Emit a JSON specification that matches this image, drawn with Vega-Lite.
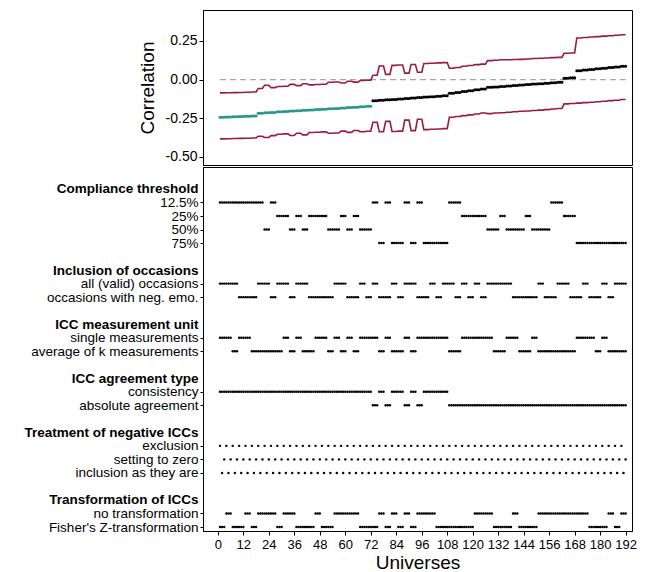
{
  "$schema": "https://vega.github.io/schema/vega-lite/v6.json",
  "padding": {"left": 23, "top": 9, "right": 5, "bottom": 0},
  "config": {
    "font": "Liberation Sans",
    "view": {"stroke": "black", "strokeWidth": 1},
    "axis": {"domainColor": "black", "tickColor": "black", "labelColor": "black", "titleColor": "black", "grid": false, "titleFontWeight": "normal", "tickSize": 4, "domainWidth": 1}
  },
  "datasets": {
    "T": [
      {"k":0,"c":"c1","o":"o1","m":"m1","a":"a1","t":"t2","e":-0.243,"lo":-0.383,"hi":-0.086},
      {"k":1,"c":"c1","o":"o1","m":"m1","a":"a1","t":"t1","e":-0.242,"lo":-0.382,"hi":-0.085},
      {"k":2,"c":"c1","o":"o1","m":"m2","a":"a1","t":"t2","e":-0.240,"lo":-0.381,"hi":-0.084},
      {"k":3,"c":"c1","o":"o2","m":"m1","a":"a1","t":"t2","e":-0.239,"lo":-0.380,"hi":-0.083},
      {"k":4,"c":"c1","o":"o2","m":"m1","a":"a1","t":"t1","e":-0.237,"lo":-0.379,"hi":-0.082},
      {"k":5,"c":"c1","o":"o2","m":"m2","a":"a1","t":"t2","e":-0.235,"lo":-0.377,"hi":-0.080},
      {"k":6,"c":"c1","o":"o1","m":"m2","a":"a1","t":"t1","e":-0.218,"lo":-0.366,"hi":-0.057},
      {"k":7,"c":"c3","o":"o1","m":"m2","a":"a1","t":"t1","e":-0.215,"lo":-0.374,"hi":-0.036},
      {"k":8,"c":"c1","o":"o2","m":"m2","a":"a1","t":"t1","e":-0.213,"lo":-0.362,"hi":-0.052},
      {"k":9,"c":"c2","o":"o1","m":"m2","a":"a1","t":"t2","e":-0.208,"lo":-0.353,"hi":-0.045},
      {"k":10,"c":"c2","o":"o1","m":"m1","a":"a1","t":"t1","e":-0.206,"lo":-0.351,"hi":-0.043},
      {"k":11,"c":"c3","o":"o2","m":"m2","a":"a1","t":"t1","e":-0.203,"lo":-0.361,"hi":-0.031},
      {"k":12,"c":"c2","o":"o1","m":"m1","a":"a1","t":"t2","e":-0.201,"lo":-0.347,"hi":-0.039},
      {"k":13,"c":"c3","o":"o1","m":"m2","a":"a1","t":"t2","e":-0.198,"lo":-0.357,"hi":-0.027},
      {"k":14,"c":"c2","o":"o2","m":"m2","a":"a1","t":"t2","e":-0.196,"lo":-0.342,"hi":-0.034},
      {"k":15,"c":"c2","o":"o2","m":"m1","a":"a1","t":"t1","e":-0.193,"lo":-0.340,"hi":-0.032},
      {"k":16,"c":"c2","o":"o2","m":"m1","a":"a1","t":"t2","e":-0.191,"lo":-0.338,"hi":-0.030},
      {"k":17,"c":"c3","o":"o2","m":"m2","a":"a1","t":"t2","e":-0.188,"lo":-0.347,"hi":-0.017},
      {"k":18,"c":"c3","o":"o1","m":"m1","a":"a1","t":"t1","e":-0.186,"lo":-0.345,"hi":-0.015},
      {"k":19,"c":"c2","o":"o1","m":"m2","a":"a1","t":"t1","e":-0.183,"lo":-0.333,"hi":-0.022},
      {"k":20,"c":"c3","o":"o2","m":"m1","a":"a1","t":"t1","e":-0.181,"lo":-0.341,"hi":-0.011},
      {"k":21,"c":"c2","o":"o2","m":"m2","a":"a1","t":"t1","e":-0.178,"lo":-0.329,"hi":-0.016},
      {"k":22,"c":"c3","o":"o1","m":"m1","a":"a1","t":"t2","e":-0.176,"lo":-0.337,"hi":-0.006},
      {"k":23,"c":"c3","o":"o2","m":"m1","a":"a1","t":"t2","e":-0.173,"lo":-0.334,"hi":-0.003},
      {"k":24,"c":"c1","o":"o1","m":"m1","a":"a2","t":"t2","e":-0.136,"lo":-0.276,"hi":0.028},
      {"k":25,"c":"c4","o":"o2","m":"m2","a":"a1","t":"t1","e":-0.133,"lo":-0.337,"hi":0.088},
      {"k":26,"c":"c1","o":"o2","m":"m1","a":"a2","t":"t2","e":-0.130,"lo":-0.270,"hi":0.034},
      {"k":27,"c":"c4","o":"o1","m":"m2","a":"a1","t":"t1","e":-0.128,"lo":-0.335,"hi":0.092},
      {"k":28,"c":"c4","o":"o2","m":"m2","a":"a1","t":"t2","e":-0.125,"lo":-0.333,"hi":0.094},
      {"k":29,"c":"c1","o":"o1","m":"m1","a":"a2","t":"t1","e":-0.122,"lo":-0.262,"hi":0.042},
      {"k":30,"c":"c4","o":"o1","m":"m2","a":"a1","t":"t2","e":-0.119,"lo":-0.330,"hi":0.098},
      {"k":31,"c":"c1","o":"o2","m":"m1","a":"a2","t":"t1","e":-0.116,"lo":-0.256,"hi":0.048},
      {"k":32,"c":"c4","o":"o2","m":"m1","a":"a1","t":"t1","e":-0.113,"lo":-0.323,"hi":0.104},
      {"k":33,"c":"c4","o":"o1","m":"m1","a":"a1","t":"t1","e":-0.110,"lo":-0.321,"hi":0.106},
      {"k":34,"c":"c4","o":"o2","m":"m1","a":"a1","t":"t2","e":-0.107,"lo":-0.319,"hi":0.108},
      {"k":35,"c":"c4","o":"o1","m":"m1","a":"a1","t":"t2","e":-0.104,"lo":-0.317,"hi":0.110},
      {"k":36,"c":"c1","o":"o1","m":"m2","a":"a2","t":"t2","e":-0.088,"lo":-0.243,"hi":0.073},
      {"k":37,"c":"c1","o":"o2","m":"m2","a":"a2","t":"t2","e":-0.083,"lo":-0.238,"hi":0.078},
      {"k":38,"c":"c2","o":"o1","m":"m1","a":"a2","t":"t2","e":-0.077,"lo":-0.233,"hi":0.086},
      {"k":39,"c":"c2","o":"o2","m":"m1","a":"a2","t":"t2","e":-0.072,"lo":-0.228,"hi":0.091},
      {"k":40,"c":"c2","o":"o1","m":"m1","a":"a2","t":"t1","e":-0.066,"lo":-0.222,"hi":0.097},
      {"k":41,"c":"c2","o":"o2","m":"m1","a":"a2","t":"t1","e":-0.060,"lo":-0.216,"hi":0.100},
      {"k":42,"c":"c3","o":"o1","m":"m1","a":"a2","t":"t1","e":-0.050,"lo":-0.220,"hi":0.123},
      {"k":43,"c":"c3","o":"o1","m":"m2","a":"a2","t":"t2","e":-0.047,"lo":-0.216,"hi":0.125},
      {"k":44,"c":"c2","o":"o1","m":"m2","a":"a2","t":"t2","e":-0.044,"lo":-0.214,"hi":0.128},
      {"k":45,"c":"c3","o":"o1","m":"m1","a":"a2","t":"t2","e":-0.041,"lo":-0.211,"hi":0.128},
      {"k":46,"c":"c3","o":"o2","m":"m1","a":"a2","t":"t1","e":-0.038,"lo":-0.208,"hi":0.130},
      {"k":47,"c":"c3","o":"o2","m":"m2","a":"a2","t":"t2","e":-0.035,"lo":-0.205,"hi":0.131},
      {"k":48,"c":"c2","o":"o2","m":"m2","a":"a2","t":"t2","e":-0.032,"lo":-0.203,"hi":0.133},
      {"k":49,"c":"c3","o":"o2","m":"m1","a":"a2","t":"t2","e":-0.029,"lo":-0.200,"hi":0.136},
      {"k":50,"c":"c3","o":"o1","m":"m2","a":"a2","t":"t1","e":-0.026,"lo":-0.197,"hi":0.138},
      {"k":51,"c":"c3","o":"o2","m":"m2","a":"a2","t":"t1","e":-0.023,"lo":-0.194,"hi":0.140},
      {"k":52,"c":"c1","o":"o2","m":"m2","a":"a2","t":"t1","e":-0.020,"lo":-0.190,"hi":0.142},
      {"k":53,"c":"c1","o":"o1","m":"m2","a":"a2","t":"t1","e":-0.017,"lo":-0.187,"hi":0.144},
      {"k":54,"c":"c2","o":"o1","m":"m2","a":"a2","t":"t1","e":0.008,"lo":-0.157,"hi":0.170},
      {"k":55,"c":"c2","o":"o2","m":"m2","a":"a2","t":"t1","e":0.012,"lo":-0.154,"hi":0.172},
      {"k":56,"c":"c4","o":"o2","m":"m1","a":"a2","t":"t1","e":0.058,"lo":-0.152,"hi":0.269},
      {"k":57,"c":"c4","o":"o1","m":"m1","a":"a2","t":"t1","e":0.062,"lo":-0.149,"hi":0.272},
      {"k":58,"c":"c4","o":"o2","m":"m1","a":"a2","t":"t2","e":0.066,"lo":-0.146,"hi":0.275},
      {"k":59,"c":"c4","o":"o2","m":"m2","a":"a2","t":"t2","e":0.070,"lo":-0.143,"hi":0.278},
      {"k":60,"c":"c4","o":"o1","m":"m1","a":"a2","t":"t2","e":0.074,"lo":-0.140,"hi":0.281},
      {"k":61,"c":"c4","o":"o2","m":"m2","a":"a2","t":"t1","e":0.078,"lo":-0.136,"hi":0.284},
      {"k":62,"c":"c4","o":"o1","m":"m2","a":"a2","t":"t2","e":0.082,"lo":-0.133,"hi":0.287},
      {"k":63,"c":"c4","o":"o1","m":"m2","a":"a2","t":"t1","e":0.086,"lo":-0.129,"hi":0.290}
    ],
    "L": [
      {"code":"c1","label":"12.5%"},{"code":"c2","label":"25%"},{"code":"c3","label":"50%"},{"code":"c4","label":"75%"},
      {"code":"o1","label":"all (valid) occasions"},{"code":"o2","label":"occasions with neg. emo."},
      {"code":"m1","label":"single measurements"},{"code":"m2","label":"average of k measurements"},
      {"code":"a1","label":"consistency"},{"code":"a2","label":"absolute agreement"},
      {"code":"n1","label":"exclusion"},{"code":"n2","label":"setting to zero"},{"code":"n3","label":"inclusion as they are"},
      {"code":"t1","label":"no transformation"},{"code":"t2","label":"Fisher's Z-transformation"}
    ],
    "U": [
      {"u":1,"k":0,"n":"n1"},{"u":2,"k":0,"n":"n3"},{"u":3,"k":0,"n":"n2"},
      {"u":4,"k":1,"n":"n1"},{"u":5,"k":1,"n":"n3"},{"u":6,"k":1,"n":"n2"},
      {"u":7,"k":2,"n":"n1"},{"u":8,"k":2,"n":"n3"},{"u":9,"k":2,"n":"n2"},
      {"u":10,"k":3,"n":"n1"},{"u":11,"k":3,"n":"n3"},{"u":12,"k":3,"n":"n2"},
      {"u":13,"k":4,"n":"n1"},{"u":14,"k":4,"n":"n3"},{"u":15,"k":4,"n":"n2"},
      {"u":16,"k":5,"n":"n1"},{"u":17,"k":5,"n":"n3"},{"u":18,"k":5,"n":"n2"},
      {"u":19,"k":6,"n":"n1"},{"u":20,"k":6,"n":"n3"},{"u":21,"k":6,"n":"n2"},
      {"u":22,"k":7,"n":"n1"},{"u":23,"k":7,"n":"n3"},{"u":24,"k":7,"n":"n2"},
      {"u":25,"k":8,"n":"n1"},{"u":26,"k":8,"n":"n3"},{"u":27,"k":8,"n":"n2"},
      {"u":28,"k":9,"n":"n1"},{"u":29,"k":9,"n":"n3"},{"u":30,"k":9,"n":"n2"},
      {"u":31,"k":10,"n":"n1"},{"u":32,"k":10,"n":"n3"},{"u":33,"k":10,"n":"n2"},
      {"u":34,"k":11,"n":"n1"},{"u":35,"k":11,"n":"n3"},{"u":36,"k":11,"n":"n2"},
      {"u":37,"k":12,"n":"n1"},{"u":38,"k":12,"n":"n3"},{"u":39,"k":12,"n":"n2"},
      {"u":40,"k":13,"n":"n1"},{"u":41,"k":13,"n":"n3"},{"u":42,"k":13,"n":"n2"},
      {"u":43,"k":14,"n":"n1"},{"u":44,"k":14,"n":"n3"},{"u":45,"k":14,"n":"n2"},
      {"u":46,"k":15,"n":"n1"},{"u":47,"k":15,"n":"n3"},{"u":48,"k":15,"n":"n2"},
      {"u":49,"k":16,"n":"n1"},{"u":50,"k":16,"n":"n3"},{"u":51,"k":16,"n":"n2"},
      {"u":52,"k":17,"n":"n1"},{"u":53,"k":17,"n":"n3"},{"u":54,"k":17,"n":"n2"},
      {"u":55,"k":18,"n":"n1"},{"u":56,"k":18,"n":"n3"},{"u":57,"k":18,"n":"n2"},
      {"u":58,"k":19,"n":"n1"},{"u":59,"k":19,"n":"n3"},{"u":60,"k":19,"n":"n2"},
      {"u":61,"k":20,"n":"n1"},{"u":62,"k":20,"n":"n3"},{"u":63,"k":20,"n":"n2"},
      {"u":64,"k":21,"n":"n1"},{"u":65,"k":21,"n":"n3"},{"u":66,"k":21,"n":"n2"},
      {"u":67,"k":22,"n":"n1"},{"u":68,"k":22,"n":"n3"},{"u":69,"k":22,"n":"n2"},
      {"u":70,"k":23,"n":"n1"},{"u":71,"k":23,"n":"n3"},{"u":72,"k":23,"n":"n2"},
      {"u":73,"k":24,"n":"n1"},{"u":74,"k":24,"n":"n3"},{"u":75,"k":24,"n":"n2"},
      {"u":76,"k":25,"n":"n1"},{"u":77,"k":25,"n":"n3"},{"u":78,"k":25,"n":"n2"},
      {"u":79,"k":26,"n":"n1"},{"u":80,"k":26,"n":"n3"},{"u":81,"k":26,"n":"n2"},
      {"u":82,"k":27,"n":"n1"},{"u":83,"k":27,"n":"n3"},{"u":84,"k":27,"n":"n2"},
      {"u":85,"k":28,"n":"n1"},{"u":86,"k":28,"n":"n3"},{"u":87,"k":28,"n":"n2"},
      {"u":88,"k":29,"n":"n1"},{"u":89,"k":29,"n":"n3"},{"u":90,"k":29,"n":"n2"},
      {"u":91,"k":30,"n":"n1"},{"u":92,"k":30,"n":"n3"},{"u":93,"k":30,"n":"n2"},
      {"u":94,"k":31,"n":"n1"},{"u":95,"k":31,"n":"n3"},{"u":96,"k":31,"n":"n2"},
      {"u":97,"k":32,"n":"n1"},{"u":98,"k":32,"n":"n3"},{"u":99,"k":32,"n":"n2"},
      {"u":100,"k":33,"n":"n1"},{"u":101,"k":33,"n":"n3"},{"u":102,"k":33,"n":"n2"},
      {"u":103,"k":34,"n":"n1"},{"u":104,"k":34,"n":"n3"},{"u":105,"k":34,"n":"n2"},
      {"u":106,"k":35,"n":"n1"},{"u":107,"k":35,"n":"n3"},{"u":108,"k":35,"n":"n2"},
      {"u":109,"k":36,"n":"n1"},{"u":110,"k":36,"n":"n3"},{"u":111,"k":36,"n":"n2"},
      {"u":112,"k":37,"n":"n1"},{"u":113,"k":37,"n":"n3"},{"u":114,"k":37,"n":"n2"},
      {"u":115,"k":38,"n":"n1"},{"u":116,"k":38,"n":"n3"},{"u":117,"k":38,"n":"n2"},
      {"u":118,"k":39,"n":"n1"},{"u":119,"k":39,"n":"n3"},{"u":120,"k":39,"n":"n2"},
      {"u":121,"k":40,"n":"n1"},{"u":122,"k":40,"n":"n3"},{"u":123,"k":40,"n":"n2"},
      {"u":124,"k":41,"n":"n1"},{"u":125,"k":41,"n":"n3"},{"u":126,"k":41,"n":"n2"},
      {"u":127,"k":42,"n":"n1"},{"u":128,"k":42,"n":"n3"},{"u":129,"k":42,"n":"n2"},
      {"u":130,"k":43,"n":"n1"},{"u":131,"k":43,"n":"n3"},{"u":132,"k":43,"n":"n2"},
      {"u":133,"k":44,"n":"n1"},{"u":134,"k":44,"n":"n3"},{"u":135,"k":44,"n":"n2"},
      {"u":136,"k":45,"n":"n1"},{"u":137,"k":45,"n":"n3"},{"u":138,"k":45,"n":"n2"},
      {"u":139,"k":46,"n":"n1"},{"u":140,"k":46,"n":"n3"},{"u":141,"k":46,"n":"n2"},
      {"u":142,"k":47,"n":"n1"},{"u":143,"k":47,"n":"n3"},{"u":144,"k":47,"n":"n2"},
      {"u":145,"k":48,"n":"n1"},{"u":146,"k":48,"n":"n3"},{"u":147,"k":48,"n":"n2"},
      {"u":148,"k":49,"n":"n1"},{"u":149,"k":49,"n":"n3"},{"u":150,"k":49,"n":"n2"},
      {"u":151,"k":50,"n":"n1"},{"u":152,"k":50,"n":"n3"},{"u":153,"k":50,"n":"n2"},
      {"u":154,"k":51,"n":"n1"},{"u":155,"k":51,"n":"n3"},{"u":156,"k":51,"n":"n2"},
      {"u":157,"k":52,"n":"n1"},{"u":158,"k":52,"n":"n3"},{"u":159,"k":52,"n":"n2"},
      {"u":160,"k":53,"n":"n1"},{"u":161,"k":53,"n":"n3"},{"u":162,"k":53,"n":"n2"},
      {"u":163,"k":54,"n":"n1"},{"u":164,"k":54,"n":"n3"},{"u":165,"k":54,"n":"n2"},
      {"u":166,"k":55,"n":"n1"},{"u":167,"k":55,"n":"n3"},{"u":168,"k":55,"n":"n2"},
      {"u":169,"k":56,"n":"n1"},{"u":170,"k":56,"n":"n3"},{"u":171,"k":56,"n":"n2"},
      {"u":172,"k":57,"n":"n1"},{"u":173,"k":57,"n":"n3"},{"u":174,"k":57,"n":"n2"},
      {"u":175,"k":58,"n":"n1"},{"u":176,"k":58,"n":"n3"},{"u":177,"k":58,"n":"n2"},
      {"u":178,"k":59,"n":"n1"},{"u":179,"k":59,"n":"n3"},{"u":180,"k":59,"n":"n2"},
      {"u":181,"k":60,"n":"n1"},{"u":182,"k":60,"n":"n3"},{"u":183,"k":60,"n":"n2"},
      {"u":184,"k":61,"n":"n1"},{"u":185,"k":61,"n":"n3"},{"u":186,"k":61,"n":"n2"},
      {"u":187,"k":62,"n":"n1"},{"u":188,"k":62,"n":"n3"},{"u":189,"k":62,"n":"n2"},
      {"u":190,"k":63,"n":"n1"},{"u":191,"k":63,"n":"n3"},{"u":192,"k":63,"n":"n2"}
    ]
  },
  "vconcat": [
    {
      "width": 429,
      "height": 155,
      "data": {"name": "U"},
      "transform": [
        {"lookup": "k", "from": {"data": {"name": "T"}, "key": "k", "fields": ["e", "lo", "hi"]}}
      ],
      "layer": [
        {
          "data": {"values": [{"z": 0}]},
          "mark": {"type": "rule", "strokeDash": [6, 4], "color": "#a6a6a6", "strokeWidth": 1.3},
          "encoding": {
            "x": {"datum": 1, "type": "quantitative", "scale": {"domain": [-7, 195], "nice": false, "zero": false}, "axis": null},
            "x2": {"datum": 192},
            "y": {"field": "z", "type": "quantitative", "scale": {"domain": [-0.552, 0.45], "nice": false, "zero": false}, "title": "Correlation",
              "axis": {"values": [-0.5, -0.25, 0, 0.25], "labelExpr": "datum.value < 0 ? '-' + format(-datum.value, '.2f') : format(datum.value, '.2f')", "labelFontSize": 14, "titleFontSize": 19, "titlePadding": 8}}
          }
        },
        {
          "mark": {"type": "line", "color": "#9c1a3c", "strokeWidth": 1.6},
          "encoding": {
            "x": {"field": "u", "type": "quantitative", "axis": null},
            "y": {"field": "lo", "type": "quantitative", "title": "Correlation"}
          }
        },
        {
          "mark": {"type": "line", "color": "#9c1a3c", "strokeWidth": 1.6},
          "encoding": {
            "x": {"field": "u", "type": "quantitative", "axis": null},
            "y": {"field": "hi", "type": "quantitative", "title": "Correlation"}
          }
        },
        {
          "mark": {"type": "circle", "size": 9, "opacity": 1},
          "encoding": {
            "x": {"field": "u", "type": "quantitative", "axis": null},
            "y": {"field": "e", "type": "quantitative", "title": "Correlation"},
            "color": {"condition": {"test": "datum.hi < 0", "value": "#28968c"}, "value": "black"}
          }
        }
      ]
    },
    {
      "width": 429,
      "height": 364,
      "data": {"name": "U"},
      "transform": [
        {"lookup": "k", "from": {"data": {"name": "T"}, "key": "k", "fields": ["c", "o", "m", "a", "t"]}},
        {"fold": ["c", "o", "m", "a", "n", "t"], "as": ["f", "code"]},
        {"lookup": "code", "from": {"data": {"name": "L"}, "key": "code", "fields": ["label"]}}
      ],
      "mark": {"type": "circle", "size": 6, "color": "black", "opacity": 1},
      "encoding": {
        "x": {"field": "u", "type": "quantitative", "scale": {"domain": [-7, 195], "nice": false, "zero": false},
          "axis": {"values": [0, 12, 24, 36, 48, 60, 72, 84, 96, 108, 120, 132, 144, 156, 168, 180, 192], "title": "Universes", "labelFontSize": 13, "titleFontSize": 19, "titlePadding": 2, "labelFlush": false, "labelPadding": 3}},
        "y": {"field": "label", "type": "ordinal",
          "scale": {"type": "point", "padding": 0.96, "align": 0.846, "domain": ["Compliance threshold", "12.5%", "25%", "50%", "75%", " ", "Inclusion of occasions", "all (valid) occasions", "occasions with neg. emo.", "  ", "ICC measurement unit", "single measurements", "average of k measurements", "   ", "ICC agreement type", "consistency", "absolute agreement", "    ", "Treatment of negative ICCs", "exclusion", "setting to zero", "inclusion as they are", "     ", "Transformation of ICCs", "no transformation", "Fisher's Z-transformation"]},
          "axis": {
            "title": null,
            "labelFontSize": 13.5,
            "labelLimit": 400,
            "labelFontWeight": {"condition": {"test": "indexof(['Compliance threshold','Inclusion of occasions','ICC measurement unit','ICC agreement type','Treatment of negative ICCs','Transformation of ICCs'], datum.value) >= 0", "value": "bold"}, "value": "normal"},
            "tickOpacity": {"condition": {"test": "indexof(['Compliance threshold','Inclusion of occasions','ICC measurement unit','ICC agreement type','Treatment of negative ICCs','Transformation of ICCs'], datum.value) >= 0 || trim(datum.value) == ''", "value": 0}, "value": 1},
            "tickSize": 3,
            "labelPadding": 2
          }
        }
      }
    }
  ],
  "spacing": 0
}
